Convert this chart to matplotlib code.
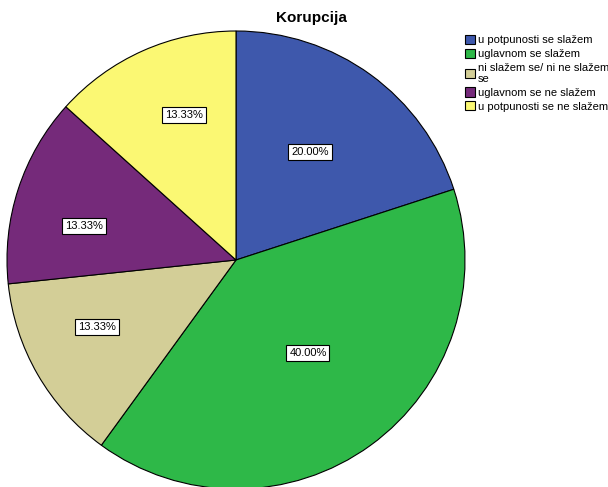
import matplotlib
matplotlib.use("Agg")
import matplotlib.pyplot as plt
import numpy as np

plt.rcParams['font.family'] = ['Liberation Sans', 'DejaVu Sans']

categories = ['u potpunosti se slažem', 'uglavnom se slažem',
              'ni slažem se/ ni ne slažem\nse', 'uglavnom se ne slažem',
              'u potpunosti se ne slažem']
values = [20.00, 40.00, 13.33, 13.33, 13.33]
colors = ['#3e58ac', '#2eb848', '#d3ce97', '#752a7a', '#fbf873']
# where SPSS put the percentage boxes (radius fraction, angle nudge in degrees)
label_dist = [0.572, 0.514, 0.674, 0.68, 0.673]
label_nudge = [1.6, 1.7, -4.3, 5.4, -4.3]

fig = plt.figure(figsize=(6.08, 4.87), dpi=100)
ax = fig.add_axes([7 / 608, -2 / 487, 458 / 608, 458 / 487])
wedges, _ = ax.pie(values, colors=colors, startangle=90, counterclock=False,
                   wedgeprops=dict(edgecolor='black', linewidth=0.8))
ax.set_xlim(-1, 1)
ax.set_ylim(-1, 1)
ax.set_aspect('equal')

for w, v, d, n in zip(wedges, values, label_dist, label_nudge):
    ang = np.deg2rad((w.theta1 + w.theta2) / 2 + n)
    ax.text(d * np.cos(ang), d * np.sin(ang), '%.2f%%' % v, ha='center', va='center',
            fontsize=8, bbox=dict(facecolor='white', edgecolor='black', pad=2, linewidth=0.8))

fig.text(311 / 608, 1 - 18 / 487, 'Korupcija', ha='center', va='center',
         fontsize=11, fontweight='bold')

leg = fig.legend(wedges, categories, loc='upper left', bbox_to_anchor=(465 / 608, 1 - 35 / 487),
                 frameon=False, fontsize=8, handlelength=0.9, handleheight=0.9,
                 handletextpad=0.25, labelspacing=0.3, borderaxespad=0, borderpad=0)

fig.savefig('out.png', dpi=100)
